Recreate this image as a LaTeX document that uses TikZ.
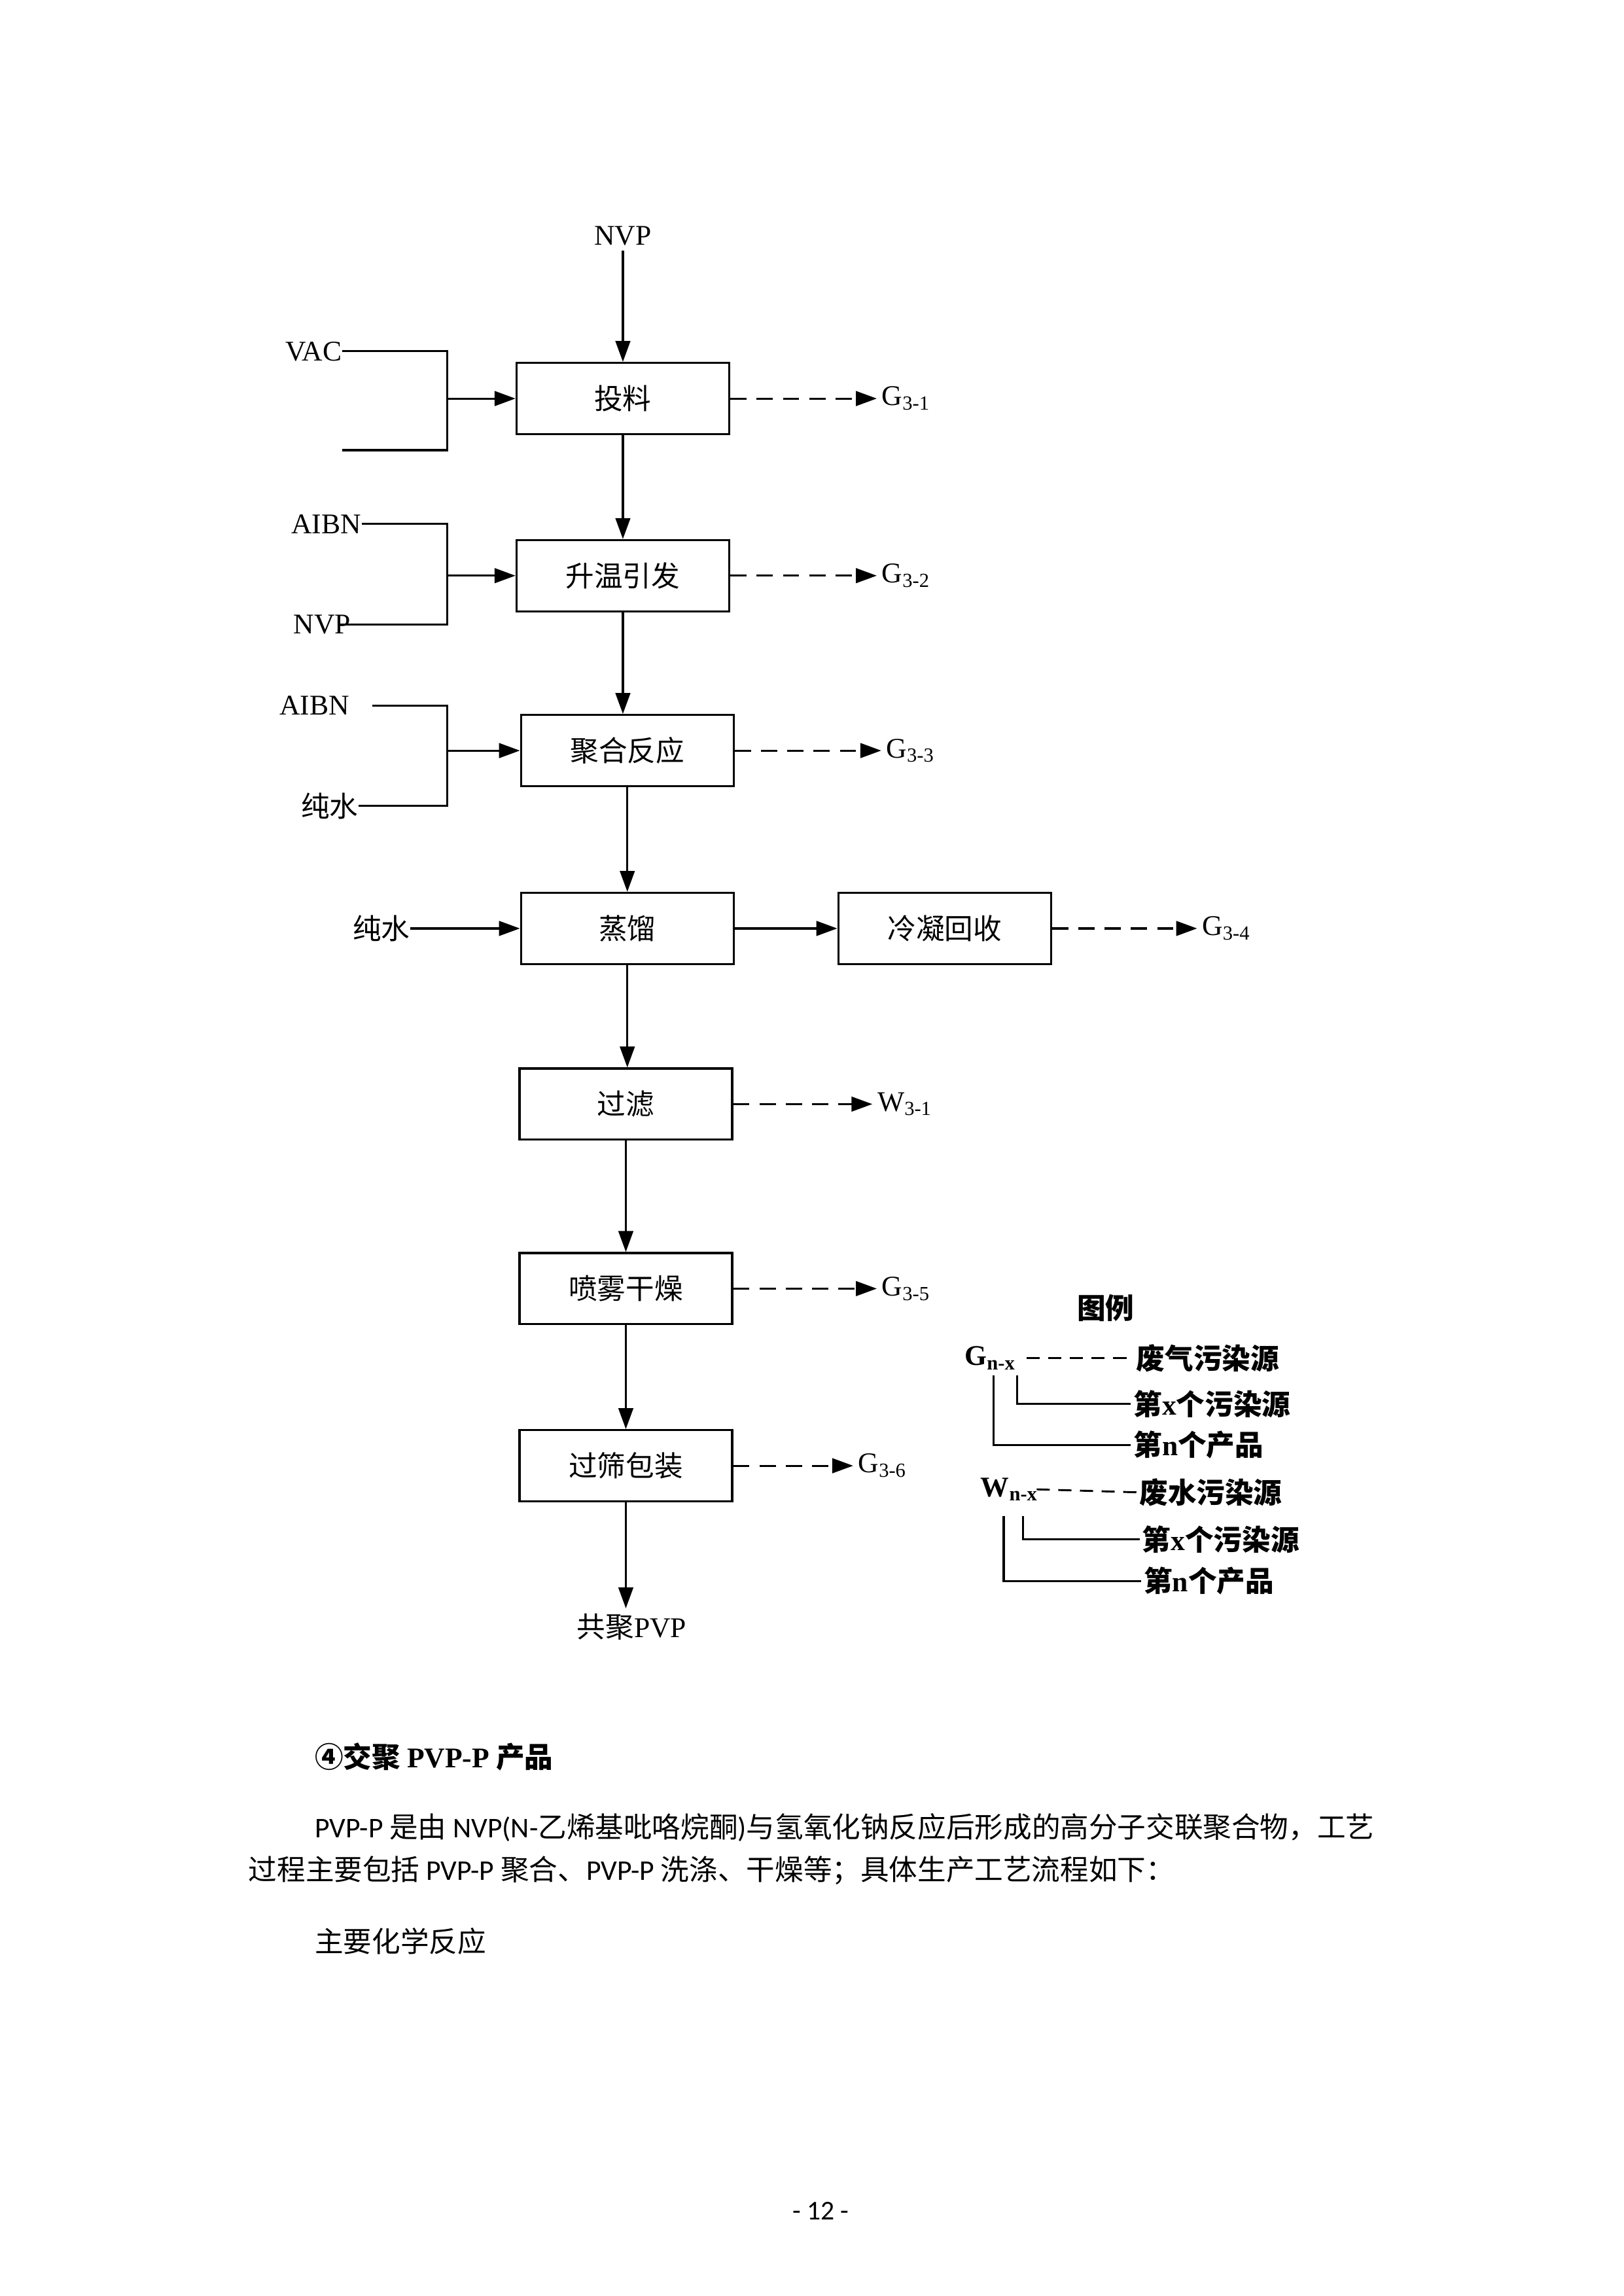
\documentclass[tikz,border=0pt]{standalone}
\usepackage{fontspec}
\setmainfont{Liberation Serif}
\newfontfamily\cjk{Noto Sans CJK SC}
\newfontfamily\lat{Carlito}
\usetikzlibrary{arrows.meta}
\newcommand\wufont{\fontsize{10.5pt}{12.6pt}\selectfont}

\begin{document}
\begin{tikzpicture}[
  x=0.019091cm, y=-0.019091cm,
  procbox/.style={draw, line width=0.8pt, minimum width=2.75cm, minimum height=0.92cm,
    inner sep=0pt, font=\cjk\wufont},
  lab/.style={inner sep=0.6mm, font=\wufont},
  inlab/.style={inner sep=0pt, anchor=east, font=\wufont},
  arrow/.style={-{Triangle[length=2.7mm,width=1.9mm]}, line width=0.75pt},
  dasharrow/.style={arrow, dash pattern=on 2.1mm off 1.3mm},
  feedline/.style={line width=0.75pt},
  legtext/.style={inner sep=0.3mm, anchor=west, font=\cjk\bfseries\wufont},
  legdash/.style={line width=0.7pt, dash pattern=on 1.7mm off 1.1mm},
  bodytext/.style={inner sep=0pt, anchor=west, font=\cjk\wufont}
]
  \useasboundingbox (0,0) rectangle (1100,1555.5);

  % process boxes
  \node[procbox] (tl) at (422,270) {投料};
  \node[procbox] (sw) at (422,390) {升温引发};
  \node[procbox] (jh) at (425,508.5) {聚合反应};
  \node[procbox] (zl) at (425,629) {蒸馏};
  \node[procbox] (ln) at (640,629) {冷凝回收};
  \node[procbox] (gl) at (424,748) {过滤};
  \node[procbox] (pw) at (424,873) {喷雾干燥};
  \node[procbox] (bz) at (424,993) {过筛包装};

  % inputs and product
  \node[lab] (nvp) at (422,160) {NVP};
  \node[inlab] (vac) at (232,238) {VAC};
  \node[inlab] (aibna) at (245,355) {AIBN};
  \node[inlab] (nvpb) at (238,423) {NVP};
  \node[inlab] (aibnb) at (237,478) {AIBN};
  \node[inlab] (csa) at (243,546) {\cjk 纯水};
  \node[inlab] (csb) at (278,629) {\cjk 纯水};
  \node[lab] (pvp) at (428,1102) {{\cjk 共聚}PVP};

  % emissions
  \node[lab, anchor=west] (ga) at (594,270) {G\textsubscript{3-1}};
  \node[lab, anchor=west] (gb) at (594,390) {G\textsubscript{3-2}};
  \node[lab, anchor=west] (gc) at (597,508.5) {G\textsubscript{3-3}};
  \node[lab, anchor=west] (gd) at (811,629) {G\textsubscript{3-4}};
  \node[lab, anchor=west] (wa) at (591,748) {W\textsubscript{3-1}};
  \node[lab, anchor=west] (ge) at (594,873) {G\textsubscript{3-5}};
  \node[lab, anchor=west] (gf) at (578,993) {G\textsubscript{3-6}};

  \coordinate (vacend) at (232,305);
  \coordinate (ja) at (303,270);
  \coordinate (jb) at (303,390);
  \coordinate (jc) at (303,508.5);

  % main flow
  \draw[arrow] (nvp) -- (tl);
  \draw[arrow] (tl) -- (sw);
  \draw[arrow] (sw.south) -- (sw.south |- jh.north);
  \draw[arrow] (jh) -- (zl);
  \draw[arrow] (zl.south) -- (zl.south |- gl.north);
  \draw[arrow] (gl) -- (pw);
  \draw[arrow] (pw) -- (bz);
  \draw[arrow] (bz.south) -- (bz.south |- pvp.north);
  \draw[arrow] (zl) -- (ln);

  % side feeds
  \draw[feedline] (vac.east) -| (ja) |- (vacend);
  \draw[arrow] (ja) -- (tl);
  \draw[feedline] (aibna.east) -| (jb) |- ([xshift=-1.5mm]nvpb.east);
  \draw[arrow] (jb) -- (sw);
  \draw[feedline] ([xshift=2.9mm]aibnb.east) -| (jc) |- (csa.east);
  \draw[arrow] (jc) -- (jh);
  \draw[arrow] (csb) -- (zl);

  \draw[dasharrow] (tl) -- (ga);
  \draw[dasharrow] (sw) -- (gb);
  \draw[dasharrow] (jh) -- (gc);
  \draw[dasharrow] (ln) -- (gd);
  \draw[dasharrow] (gl) -- (wa);
  \draw[dasharrow] (pw) -- (ge);
  \draw[dasharrow] (bz) -- (gf);

  % legend
  \node[font=\cjk\bfseries\wufont] (tuli) at (749,886) {图例};
  \node[inner sep=0.3mm, font=\bfseries\wufont] (gleg) at (671,920) {G\textsubscript{n-x}};
  \node[legtext] (fq) at (768,920) {废气污染源};
  \node[legtext] (gx) at (766,951) {第{\rmfamily x}个污染源};
  \node[legtext] (gn) at (766,979) {第{\rmfamily n}个产品};
  \node[inner sep=0.3mm, font=\bfseries\wufont] (wleg) at (684,1009) {W\textsubscript{n-x}};
  \node[legtext] (fs) at (770,1011) {废水污染源};
  \node[legtext] (wx) at (772,1043) {第{\rmfamily x}个污染源};
  \node[legtext] (wn) at (773,1071) {第{\rmfamily n}个产品};
  \coordinate (gxa) at (689,932);
  \coordinate (gna) at (673,932);
  \coordinate (wxa) at (693,1027);
  \coordinate (wna) at (680,1027);
  \draw[legdash] ([xshift=1mm]gleg.east) -- (fq.west);
  \draw[legdash] ([xshift=-0.6mm]wleg.east) -- (fs.west);
  \draw[feedline] (gxa) |- (gx.west);
  \draw[feedline] (gna) |- (gn.west);
  \draw[feedline] (wxa) |- (wx.west);
  \draw[feedline] (wna) |- (wn.west);

  % text below
  \node[bodytext, font=\cjk\bfseries\wufont] (sec) at (213,1190) {④交聚 {\rmfamily PVP-P} 产品};
  \node[bodytext] (pa) at (213,1238) {{\lat PVP-P} 是由 {\lat NVP(N-}乙烯基吡咯烷酮{\lat )}与氢氧化钠反应后形成的高分子交联聚合物，工艺};
  \node[bodytext] (pb) at (168,1267) {过程主要包括 {\lat PVP-P} 聚合、{\lat PVP-P} 洗涤、干燥等；具体生产工艺流程如下：};
  \node[bodytext] (pc) at (213,1315) {主要化学反应};
  \node[font=\lat\fontsize{10pt}{12pt}\selectfont] (pg) at (556,1498) {- 12 -};
\end{tikzpicture}
\end{document}
